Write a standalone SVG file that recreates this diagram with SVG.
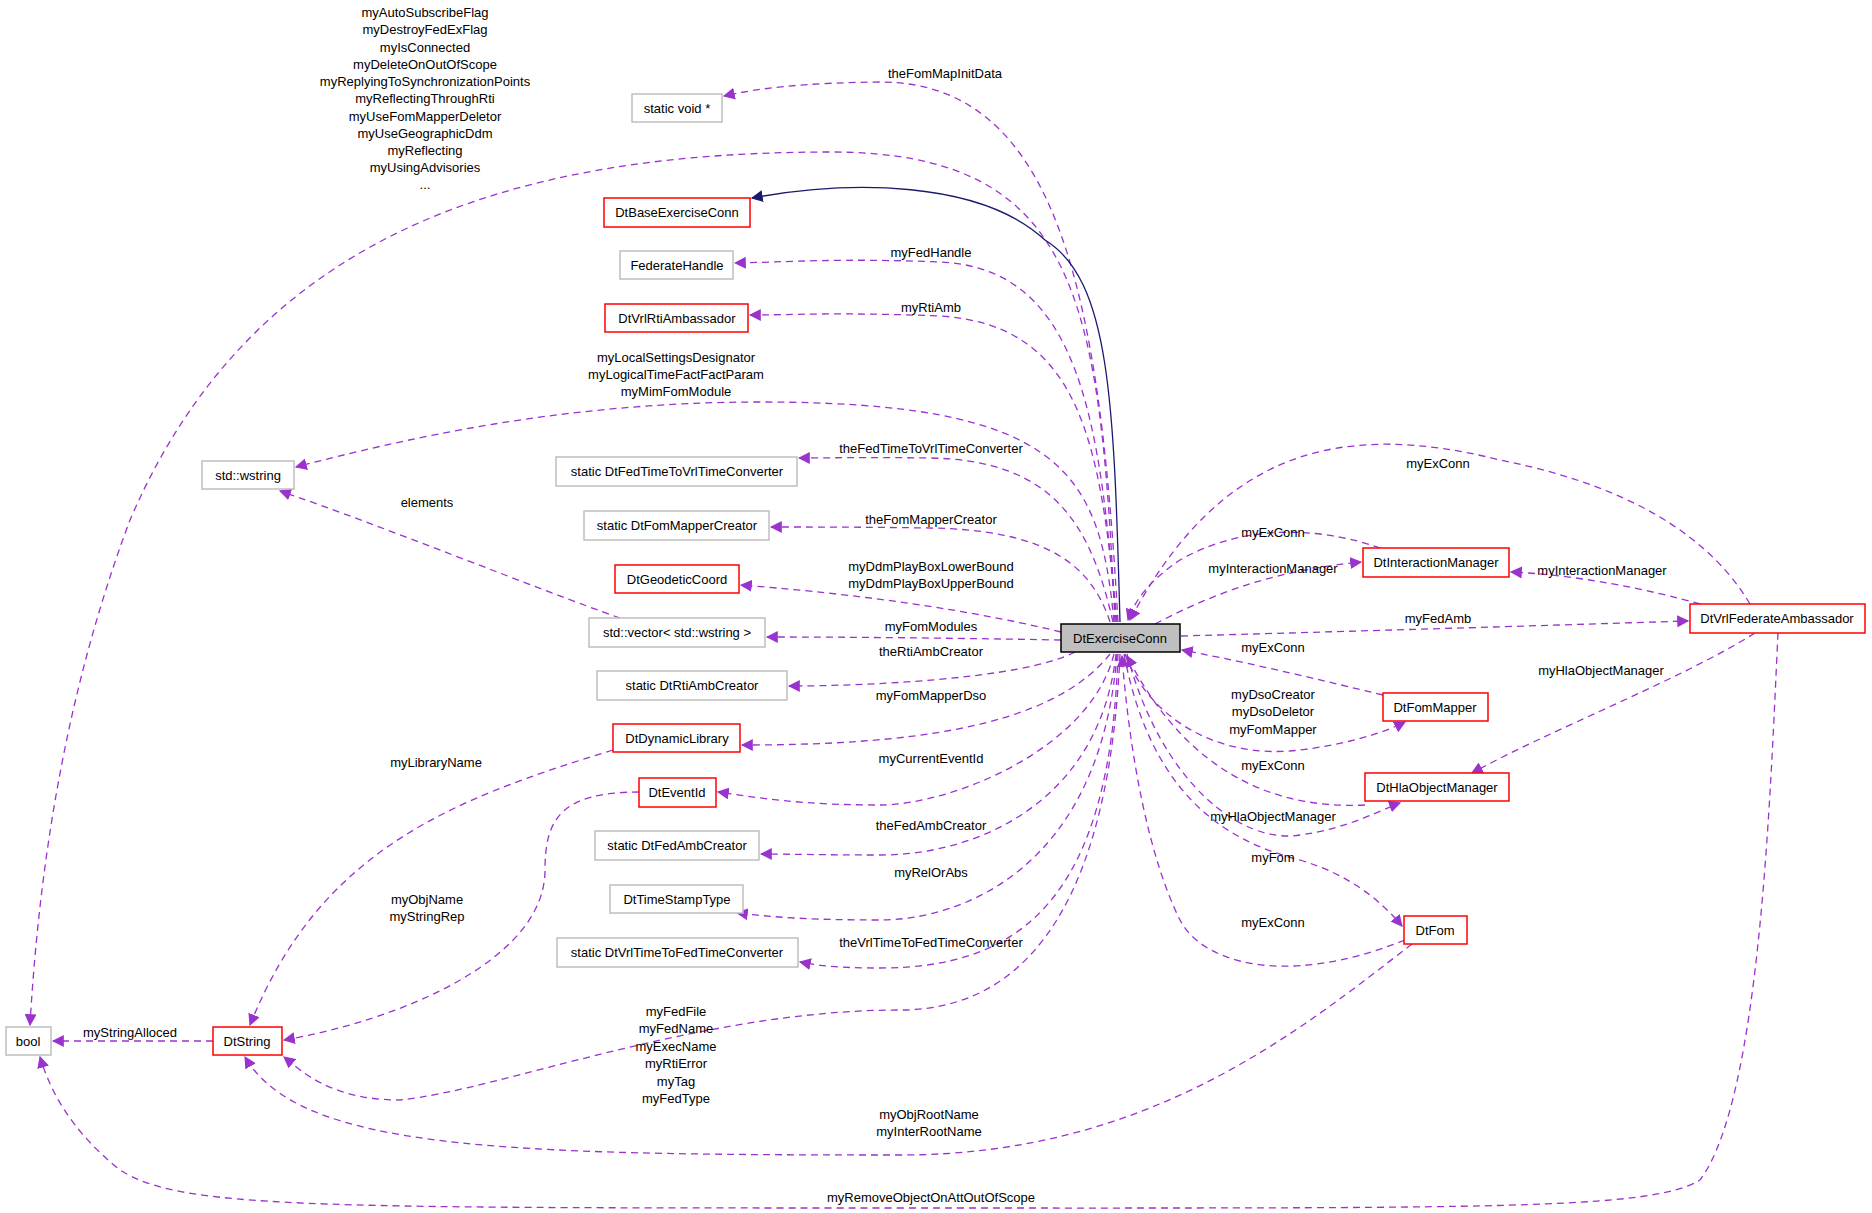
<svg xmlns="http://www.w3.org/2000/svg" width="1872" height="1213" viewBox="0 0 1872 1213">
<style>
text{font-family:"Liberation Sans",Arial,sans-serif;font-size:13px;fill:#000}
.n text{text-anchor:middle}
.g rect{fill:#fff;stroke:#bfbfbf;stroke-width:1.5}
.r rect{fill:#fff;stroke:#ff0000;stroke-width:1.5}
.e path{fill:none;stroke:#9a32cd;stroke-width:1.3;stroke-dasharray:7,5;marker-end:url(#a)}
.e path.s{stroke:#191970;stroke-dasharray:none;marker-end:url(#b)}
.l text{text-anchor:middle}
</style>
<defs>
<marker id="a" viewBox="0 0 10 10" refX="9" refY="5" markerWidth="12" markerHeight="12" markerUnits="userSpaceOnUse" orient="auto"><path d="M0,0L10,5L0,10z" fill="#9a32cd"/></marker>
<marker id="b" viewBox="0 0 10 10" refX="9" refY="5" markerWidth="12" markerHeight="12" markerUnits="userSpaceOnUse" orient="auto"><path d="M0,0L10,5L0,10z" fill="#191970"/></marker>
</defs>
<rect width="1872" height="1213" fill="#fff"/>
<g class="e" id="edges">
<path d="M1118,622 C1100,300 1060,82 880,82 C800,83 760,88 724,96"/>
<path d="M1115,622 C1100,300 1080,152 830,152 C500,152 250,240 130,520 C70,680 40,850 30,1025"/>
<path class="s" d="M1120,622 C1114,400 1110,280 1045,240 C980,180 850,180 752,198"/>
<path d="M1116,622 C1100,420 1080,268 940,262 C840,258 790,262 735,263"/>
<path d="M1117,622 C1100,440 1080,325 940,316 C840,312 790,315 750,315"/>
<path d="M1114,622 C1100,470 1060,402 760,402 C560,402 400,440 296,467"/>
<path d="M1113,622 C1090,520 1050,460 930,458 C860,457 830,458 799,458"/>
<path d="M1110,622 C1090,560 1040,530 930,528 C860,527 810,527 771,527"/>
<path d="M1061,632 C950,605 830,592 741,585"/>
<path d="M1061,640 C950,638 850,637 767,637"/>
<path d="M620,618 C540,590 380,525 280,491"/>
<path d="M1075,652 C1020,680 860,686 789,686"/>
<path d="M1110,654 C1050,730 900,745 742,745"/>
<path d="M1114,654 C1090,750 950,805 880,805 C800,805 760,798 718,792"/>
<path d="M1116,654 C1100,800 980,855 880,855 C820,855 790,854 761,854"/>
<path d="M1117,654 C1100,870 960,920 880,920 C820,920 780,918 737,913"/>
<path d="M1118,654 C1110,900 1020,968 880,968 C840,968 820,966 800,962"/>
<path d="M1120,654 C1110,880 1040,1010 900,1010 C700,1010 500,1090 400,1100 C330,1100 300,1070 284,1057"/>
<path d="M613,750 C450,800 320,850 250,1025"/>
<path d="M639,792 C560,792 545,820 545,870 C545,960 400,1020 284,1040"/>
<path d="M213,1041 L53,1041"/>
<path d="M1412,944 C1300,1030 1150,1155 900,1155 C500,1155 300,1150 245,1057"/>
<path d="M1778,633 C1770,800 1760,1100 1700,1180 C1650,1210 1500,1208 900,1208 C300,1208 180,1208 120,1170 C70,1130 50,1090 40,1057"/>
<path d="M1750,604 C1700,520 1600,480 1500,460 C1340,420 1220,450 1130,620"/>
<path d="M1380,548 C1330,530 1250,520 1180,560 C1150,580 1135,600 1128,620"/>
<path d="M1155,624 C1220,590 1280,570 1361,562"/>
<path d="M1700,604 C1650,590 1580,575 1511,572"/>
<path d="M1181,636 C1400,630 1560,625 1688,621"/>
<path d="M1383,695 C1320,680 1260,665 1182,650"/>
<path d="M1125,654 C1150,720 1220,760 1300,750 C1340,745 1380,735 1405,722"/>
<path d="M1755,633 C1680,680 1550,730 1472,773"/>
<path d="M1365,805 C1260,810 1180,760 1127,656"/>
<path d="M1127,654 C1160,780 1240,845 1300,835 C1350,828 1380,810 1400,803"/>
<path d="M1124,654 C1150,790 1220,840 1300,860 C1350,875 1380,900 1402,926"/>
<path d="M1405,940 C1280,990 1200,960 1180,920 C1150,860 1130,760 1122,656"/>
</g>
<g class="l">
<text x="945" y="78">theFomMapInitData</text>
<text x="425" y="17">myAutoSubscribeFlag</text>
<text x="425" y="34">myDestroyFedExFlag</text>
<text x="425" y="52">myIsConnected</text>
<text x="425" y="69">myDeleteOnOutOfScope</text>
<text x="425" y="86">myReplyingToSynchronizationPoints</text>
<text x="425" y="103">myReflectingThroughRti</text>
<text x="425" y="121">myUseFomMapperDeletor</text>
<text x="425" y="138">myUseGeographicDdm</text>
<text x="425" y="155">myReflecting</text>
<text x="425" y="172">myUsingAdvisories</text>
<text x="425" y="189">...</text>
<text x="931" y="257">myFedHandle</text>
<text x="931" y="312">myRtiAmb</text>
<text x="676" y="362">myLocalSettingsDesignator</text>
<text x="676" y="379">myLogicalTimeFactFactParam</text>
<text x="676" y="396">myMimFomModule</text>
<text x="931" y="453">theFedTimeToVrlTimeConverter</text>
<text x="427" y="507">elements</text>
<text x="931" y="524">theFomMapperCreator</text>
<text x="931" y="571">myDdmPlayBoxLowerBound</text>
<text x="931" y="588">myDdmPlayBoxUpperBound</text>
<text x="931" y="631">myFomModules</text>
<text x="931" y="656">theRtiAmbCreator</text>
<text x="931" y="700">myFomMapperDso</text>
<text x="436" y="767">myLibraryName</text>
<text x="931" y="763">myCurrentEventId</text>
<text x="931" y="830">theFedAmbCreator</text>
<text x="931" y="877">myRelOrAbs</text>
<text x="427" y="904">myObjName</text>
<text x="427" y="921">myStringRep</text>
<text x="931" y="947">theVrlTimeToFedTimeConverter</text>
<text x="676" y="1016">myFedFile</text>
<text x="676" y="1033">myFedName</text>
<text x="676" y="1051">myExecName</text>
<text x="676" y="1068">myRtiError</text>
<text x="676" y="1086">myTag</text>
<text x="676" y="1103">myFedType</text>
<text x="130" y="1037">myStringAlloced</text>
<text x="929" y="1119">myObjRootName</text>
<text x="929" y="1136">myInterRootName</text>
<text x="931" y="1202">myRemoveObjectOnAttOutOfScope</text>
<text x="1438" y="468">myExConn</text>
<text x="1273" y="537">myExConn</text>
<text x="1273" y="573">myInteractionManager</text>
<text x="1602" y="575">myInteractionManager</text>
<text x="1438" y="623">myFedAmb</text>
<text x="1273" y="652">myExConn</text>
<text x="1273" y="699">myDsoCreator</text>
<text x="1273" y="716">myDsoDeletor</text>
<text x="1273" y="734">myFomMapper</text>
<text x="1601" y="675">myHlaObjectManager</text>
<text x="1273" y="770">myExConn</text>
<text x="1273" y="821">myHlaObjectManager</text>
<text x="1273" y="862">myFom</text>
<text x="1273" y="927">myExConn</text>
</g>
<g id="n_ec" class="n"><rect x="1061" y="624" width="119" height="28" fill="#bfbfbf" stroke="#000" stroke-width="1.5"/><text x="1120" y="643">DtExerciseConn</text></g>
<g id="n_void" class="n g"><rect x="632" y="94" width="90" height="28"/><text x="677" y="113">static void *</text></g>
<g id="n_base" class="n r"><rect x="604" y="198" width="146" height="29"/><text x="677" y="217">DtBaseExerciseConn</text></g>
<g id="n_fh" class="n g"><rect x="620" y="251" width="113" height="28"/><text x="677" y="270">FederateHandle</text></g>
<g id="n_rti" class="n r"><rect x="605" y="304" width="143" height="28"/><text x="677" y="323">DtVrlRtiAmbassador</text></g>
<g id="n_ws" class="n g"><rect x="202" y="461" width="92" height="28"/><text x="248" y="480">std::wstring</text></g>
<g id="n_f2v" class="n g"><rect x="556" y="457" width="241" height="29"/><text x="677" y="476">static DtFedTimeToVrlTimeConverter</text></g>
<g id="n_fmc" class="n g"><rect x="584" y="511" width="185" height="29"/><text x="677" y="530">static DtFomMapperCreator</text></g>
<g id="n_geo" class="n r"><rect x="615" y="565" width="124" height="28"/><text x="677" y="584">DtGeodeticCoord</text></g>
<g id="n_vec" class="n g"><rect x="589" y="618" width="176" height="29"/><text x="677" y="637">std::vector&lt; std::wstring &gt;</text></g>
<g id="n_rac" class="n g"><rect x="597" y="671" width="190" height="29"/><text x="692" y="690">static DtRtiAmbCreator</text></g>
<g id="n_dl" class="n r"><rect x="613" y="724" width="127" height="28"/><text x="677" y="743">DtDynamicLibrary</text></g>
<g id="n_eid" class="n r"><rect x="639" y="778" width="77" height="29"/><text x="677" y="797">DtEventId</text></g>
<g id="n_fac" class="n g"><rect x="595" y="831" width="164" height="29"/><text x="677" y="850">static DtFedAmbCreator</text></g>
<g id="n_tst" class="n g"><rect x="610" y="885" width="133" height="28"/><text x="677" y="904">DtTimeStampType</text></g>
<g id="n_v2f" class="n g"><rect x="557" y="938" width="241" height="29"/><text x="677" y="957">static DtVrlTimeToFedTimeConverter</text></g>
<g id="n_bool" class="n g"><rect x="6" y="1027" width="45" height="28"/><text x="28" y="1046">bool</text></g>
<g id="n_str" class="n r"><rect x="213" y="1027" width="69" height="28"/><text x="247" y="1046">DtString</text></g>
<g id="n_im" class="n r"><rect x="1363" y="548" width="146" height="29"/><text x="1436" y="567">DtInteractionManager</text></g>
<g id="n_vfa" class="n r"><rect x="1690" y="604" width="175" height="29"/><text x="1777" y="623">DtVrlFederateAmbassador</text></g>
<g id="n_fm" class="n r"><rect x="1383" y="693" width="105" height="28"/><text x="1435" y="712">DtFomMapper</text></g>
<g id="n_hom" class="n r"><rect x="1365" y="773" width="144" height="28"/><text x="1437" y="792">DtHlaObjectManager</text></g>
<g id="n_fom" class="n r"><rect x="1404" y="916" width="63" height="28"/><text x="1435" y="935">DtFom</text></g>
</svg>
